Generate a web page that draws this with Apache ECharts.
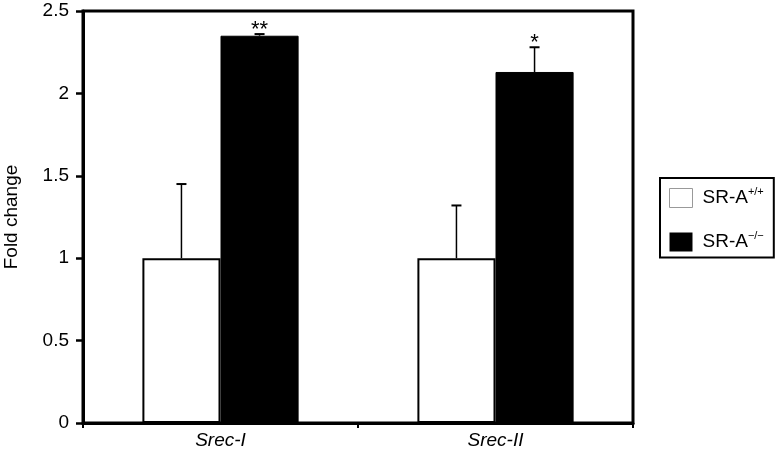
<!DOCTYPE html>
<html>
<head>
<meta charset="utf-8">
<script src="https://cdn.jsdelivr.net/npm/echarts@6/dist/echarts.min.js"></script>
<style>
  html, body { margin: 0; padding: 0; background: #fff; }
  #chart { width: 780px; height: 458px; }
</style>
</head>
<body>
<div id="chart"></div>
<script>
const categories = ['Srec-I', 'Srec-II']
const yTicks = [0, 0.5, 1, 1.5, 2, 2.5]
const wildType = [1, 1]
const wildErr = [0.45, 0.32]
const knockout = [2.35, 2.13]
const knockoutErr = [0.01, 0.15]
const knockoutSig = ['**', '*']
const seriesNames = ['SR-A+/+', 'SR-A-/-']
const legendSup = { 'SR-A+/+': '+/+', 'SR-A-/-': '\u2212/\u2212' }

const chart = echarts.init(document.getElementById('chart'))
const font = 'Liberation Sans'
const barPct = 0.284

// error bar drawn as a custom series, offset onto the left or right bar of the group
const errorSeries = (vals, errs, side, sig) => ({
  type: 'custom',
  z: 5,
  data: vals.map((v, i) => [i, v, errs[i]]),
  renderItem: function (params, api) {
    const i = api.value(0)
    const v = api.value(1)
    const e = api.value(2)
    const band = api.size([1, 0])[0]
    const base = api.coord([i, v])
    const top = api.coord([i, v + e])
    const x = base[0] + side * band * barPct / 2
    const children = [
      { type: 'line', shape: { x1: x, y1: base[1], x2: x, y2: top[1] }, style: { stroke: '#000', lineWidth: 1.5 } },
      { type: 'line', shape: { x1: x - 5, y1: top[1], x2: x + 5, y2: top[1] }, style: { stroke: '#000', lineWidth: 2 } }
    ]
    if (sig && sig[params.dataIndex]) {
      children.push({
        type: 'text',
        style: {
          text: sig[params.dataIndex],
          x: x,
          y: top[1] - 4,
          textAlign: 'center',
          textVerticalAlign: 'middle',
          font: '22px ' + font,
          fill: '#000'
        }
      })
    }
    return { type: 'group', children: children }
  }
})

const option = {
  animation: false,
  backgroundColor: '#fff',
  textStyle: { fontFamily: font },
  grid: {
    left: 83,
    right: 147,
    top: 11,
    bottom: 35,
    outerBoundsMode: 'none',
    containLabel: false,
    show: true,
    borderColor: '#000',
    borderWidth: 3
  },
  legend: {
    orient: 'vertical',
    left: 660,
    top: 178,
    padding: [8, 10, 6, 9],
    itemGap: 22,
    itemWidth: 23,
    itemHeight: 19,
    icon: 'rect',
    borderColor: '#000',
    borderWidth: 2,
    data: [
      { name: seriesNames[0], itemStyle: { color: '#fff', borderColor: '#999', borderWidth: 1 } },
      { name: seriesNames[1], itemStyle: { color: '#000', borderWidth: 0 } }
    ],
    formatter: function (name) {
      return '{a|SR-A}{b|' + legendSup[name] + '}'
    },
    textStyle: {
      rich: {
        a: { fontSize: 19, fontFamily: font, color: '#000', padding: [0, 0, 0, 5], lineHeight: 24 },
        b: { fontSize: 11, fontFamily: font, color: '#000', verticalAlign: 'top', lineHeight: 24, padding: [0, 0, 9, 0] }
      }
    }
  },
  xAxis: {
    type: 'category',
    data: categories,
    axisLine: { lineStyle: { color: '#000', width: 3 } },
    axisTick: { show: true, length: 5, lineStyle: { color: '#000', width: 2 } },
    axisLabel: { fontSize: 19, fontStyle: 'italic', color: '#000', margin: 8, fontFamily: font }
  },
  yAxis: {
    type: 'value',
    min: yTicks[0],
    max: yTicks[yTicks.length - 1],
    interval: 0.5,
    name: 'Fold change',
    nameLocation: 'middle',
    nameGap: 62,
    nameTextStyle: { fontSize: 19, color: '#000', fontFamily: font },
    axisLine: { show: true, lineStyle: { color: '#000', width: 3 } },
    axisTick: { show: true, length: 7, lineStyle: { color: '#000', width: 2.5 } },
    splitLine: { show: false },
    axisLabel: { fontSize: 19, color: '#000', margin: 14, fontFamily: font }
  },
  series: [
    {
      name: seriesNames[0],
      type: 'bar',
      data: wildType,
      barWidth: (barPct * 100) + '%',
      barGap: '0%',
      itemStyle: { color: '#fff', borderColor: '#000', borderWidth: 2 }
    },
    {
      name: seriesNames[1],
      type: 'bar',
      data: knockout,
      barWidth: (barPct * 100) + '%',
      barGap: '0%',
      itemStyle: { color: '#000', borderColor: '#000', borderWidth: 1 }
    },
    errorSeries(wildType, wildErr, -1, null),
    errorSeries(knockout, knockoutErr, 1, knockoutSig)
  ]
}
chart.setOption(option)
</script>
</body>
</html>
